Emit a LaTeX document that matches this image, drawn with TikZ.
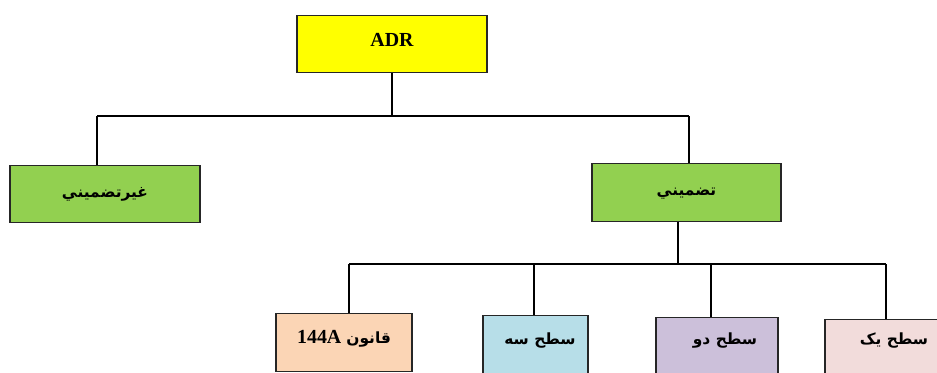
\documentclass[tikz,border=0pt]{standalone}
\usepackage{fontspec}
\setmainfont{Liberation Serif}
\newfontfamily\arabicfont[Script=Arabic]{DejaVu Sans}
\TeXXeTstate=1
\definecolor{cADR}{HTML}{FFFF00}
\definecolor{cGreen}{HTML}{92D050}
\definecolor{cPeach}{HTML}{FBD5B5}
\definecolor{cBlue}{HTML}{B7DEE8}
\definecolor{cLav}{HTML}{CCC0DA}
\definecolor{cPink}{HTML}{F2DCDB}
\begin{document}
\begin{tikzpicture}[x=1bp,y=-1bp,
  box/.style={draw=black!85, line width=1.2bp, inner xsep=0pt, inner ysep=0pt, anchor=north, align=center,
    font=\bfseries\fontsize{20}{22}\selectfont},
  arfont/.style={font=\bfseries\arabicfont\fontsize{15.5}{18}\selectfont},
  link/.style={line width=1.6bp, draw=black}]
\useasboundingbox (0,0) rectangle (937,372);
\clip (0,0) rectangle (937,372);
% boxes
\node[box, fill=cADR, minimum width=190bp, text height=31bp, text depth=26bp] (adr) at (392,15) {ADR};
\node[box, arfont, fill=cGreen, minimum width=190bp, text height=32bp, text depth=25bp] (ghayr) at (105,165) {\beginR غيرتضميني\endR};
\node[box, arfont, fill=cGreen, minimum width=189bp, text height=32bp, text depth=26bp] (tazmini) at (686.5,163) {\beginR تضميني\endR};
\node[box, fill=cPeach, minimum width=136bp, text height=30bp, text depth=28bp] (q144) at (344,313) {\beginR{\arabicfont\fontsize{15.5}{18}\selectfont قانون} \beginL 144A\endL\endR};
\node[box, arfont, fill=cBlue, minimum width=105bp, text height=29bp, text depth=45bp] (s3) at (535.5,315) {\hspace*{9bp}\beginR سطح سه\endR};
\node[box, arfont, fill=cLav, minimum width=122bp, text height=27bp, text depth=45bp] (s2) at (717,317) {\hspace*{16bp}\beginR سطح دو\endR};
\node[box, arfont, fill=cPink, minimum width=122bp, text height=25bp, text depth=45bp] (s1) at (886,319) {\hspace*{16bp}\beginR سطح یک\endR};
% junctions
\coordinate (jl) at (97,116);
\coordinate (jr) at (689,116);
\coordinate (k0) at (678,264);
\coordinate (k1) at (349,264);
\coordinate (k2) at (534,264);
\coordinate (k3) at (711,264);
\coordinate (k4) at (886,264);
% connectors
\draw[link] (adr.south) -- (adr.south |- jl);
\draw[link] (jl) -- (jr);
\draw[link] (jl) -- (jl |- ghayr.north);
\draw[link] (jr) -- (jr |- tazmini.north);
\draw[link] (k0 |- tazmini.south) -- (k0);
\draw[link] (k1) -- (k4);
\draw[link] (k1) -- (k1 |- q144.north);
\draw[link] (k2) -- (k2 |- s3.north);
\draw[link] (k3) -- (k3 |- s2.north);
\draw[link] (k4) -- (k4 |- s1.north);
\end{tikzpicture}
\end{document}
